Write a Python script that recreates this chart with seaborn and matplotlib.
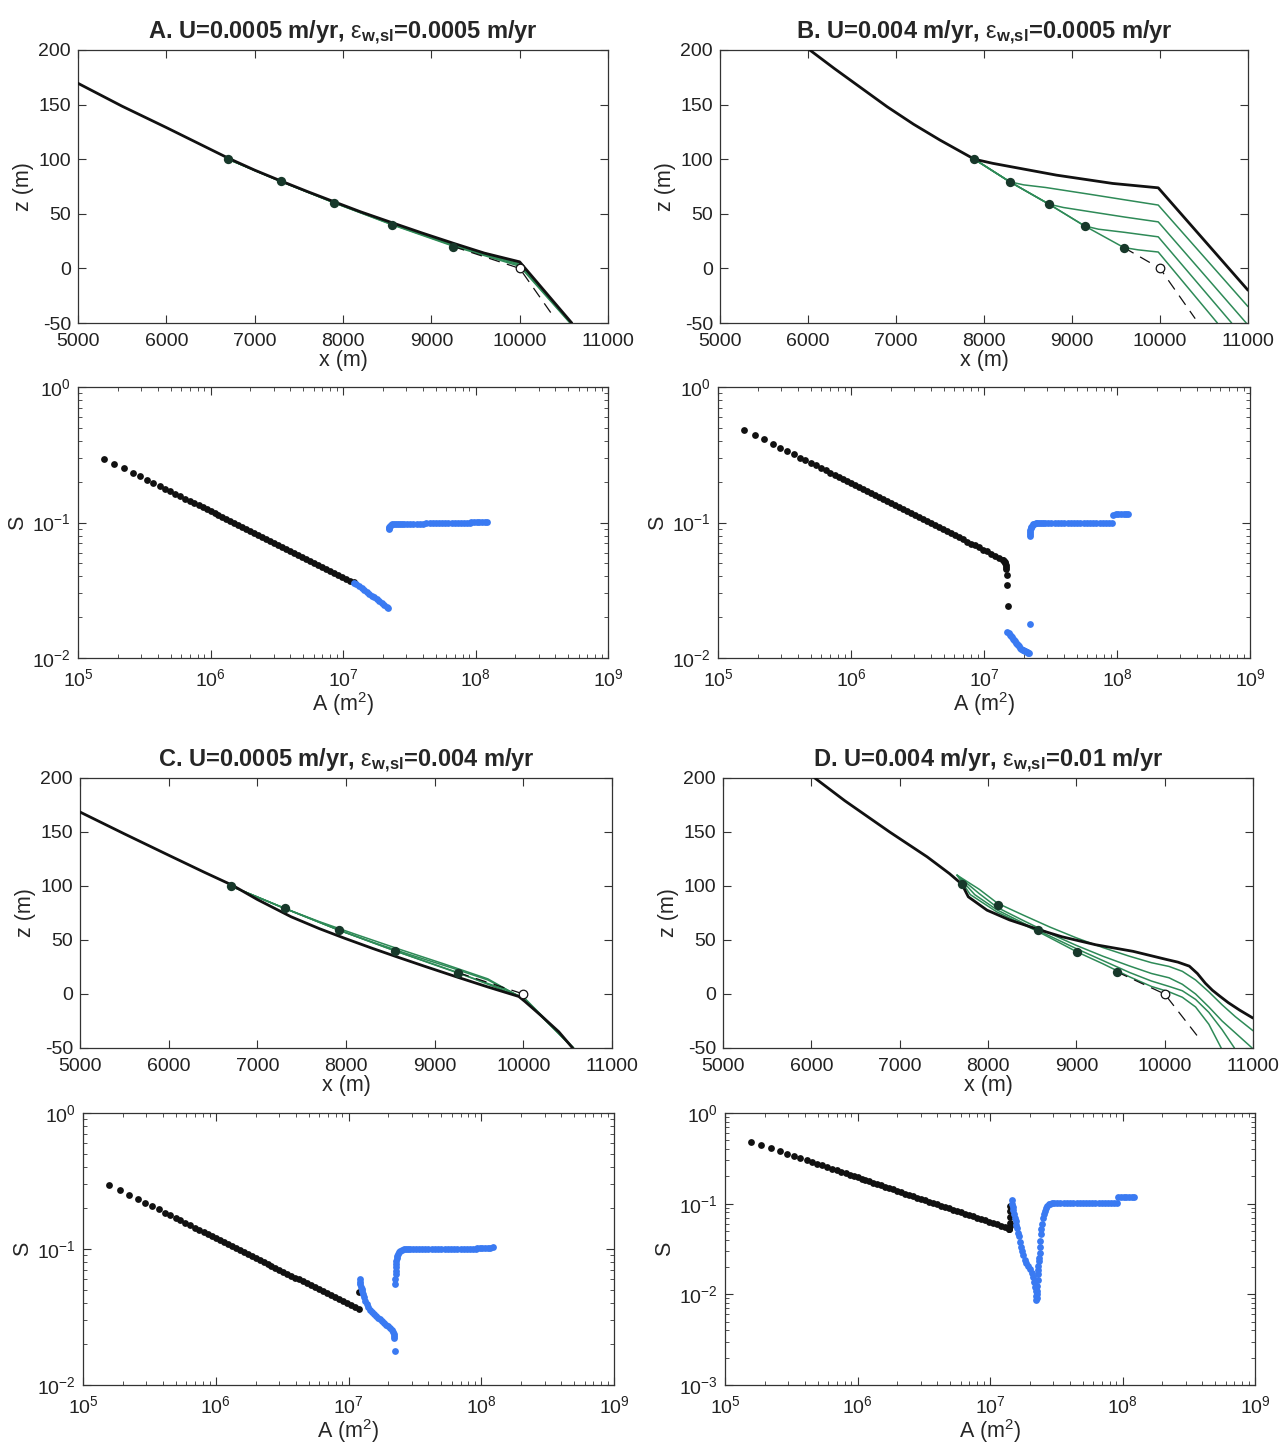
import numpy as np
import matplotlib
matplotlib.use("Agg")
import matplotlib.pyplot as plt
from matplotlib.ticker import LogLocator, NullFormatter, FixedLocator
import seaborn as sns

# ---------------- long-profile data (x in m, z in m) ----------------
# A. U=0.0005, eps=0.0005
black_A_x = [5000, 5500, 6000, 6500, 6700, 7000, 7300, 7600, 7900, 8200, 8550, 8900, 9250, 9600, 10000, 10590]
black_A_z = [169.5, 148.5, 129, 109, 101, 90, 80, 70.3, 61, 51.8, 42, 32.3, 23, 14, 6, -50]
greens_A_x = [[6700, 7300, 7900, 8550, 9250, 10000, 10585],
              [6700, 7300, 7900, 8550, 9250, 10000, 10580],
              [6700, 7300, 7900, 8550, 9250, 10000, 10575],
              [6700, 7300, 7900, 8550, 9250, 10000, 10570]]
greens_A_z = [[100, 79.6, 60.6, 41.3, 22.0, 5.0, -50],
              [100, 79.5, 60.3, 40.8, 21.4, 4.0, -50],
              [100, 79.5, 60.1, 40.4, 20.9, 3.0, -50],
              [100, 79.5, 60.0, 40.1, 20.3, 2.0, -50]]
dots_A_x = [6700, 7300, 7900, 8550, 9250]
dots_A_z = [100, 80, 60, 40, 20]
dash_A_x = [9250, 10000, 10400]
dash_A_z = [20, 0, -46]

# B. U=0.004, eps=0.0005
black_B_x = [6020, 6300, 6600, 6900, 7200, 7500, 7890, 8100, 8314, 8824, 9462, 9980, 11000]
black_B_z = [200, 183, 165.5, 148, 132, 117.5, 100, 96.2, 93, 85.4, 77.8, 73.8, -20]
greens_B_x = [[7890, 8293, 8450, 8700, 9200, 9600, 9980, 11000],
              [7890, 8293, 8739, 8900, 9200, 9600, 9980, 10980],
              [7890, 8293, 8739, 9143, 9300, 9600, 9980, 10814],
              [7890, 8293, 8739, 9143, 9589, 9750, 9980, 10652]]
greens_B_z = [[100, 79.3, 76.5, 74.1, 67.9, 62.8, 58.0, -35],
              [100, 79.3, 58.8, 55.8, 52.0, 47.0, 42.6, -50],
              [100, 79.3, 58.8, 38.9, 35.9, 33.0, 28.9, -50],
              [100, 79.3, 58.8, 38.9, 19.1, 17.0, 15.0, -50]]
dots_B_x = [7890, 8293, 8739, 9143, 9589]
dots_B_z = [100, 79.3, 58.8, 38.9, 19.1]
dash_B_x = [9589, 10000, 10400]
dash_B_z = [19.1, 0, -46]

# C. U=0.0005, eps=0.004
black_C_x = [5000, 5500, 6000, 6400, 6718, 7000, 7381, 7700, 7988, 8300, 8595, 8900, 9249, 9600, 9949, 10019, 10200, 10400, 10556]
black_C_z = [168.5, 148.3, 128.5, 112.8, 100.7, 87.5, 71.5, 60.5, 51.5, 42.2, 33.8, 25.3, 15.8, 6.5, -2.3, -7, -20, -35, -50]
greens_C_x = [[6700, 7311, 7700, 8100, 8600, 9100, 9600, 10010, 10560],
              [6700, 7311, 7918, 8300, 8700, 9200, 9600, 10010, 10560],
              [6700, 7311, 7918, 8558, 9000, 9400, 9800, 10010, 10565],
              [6700, 7311, 7918, 8558, 9263, 9600, 9850, 10010, 10570]]
greens_C_z = [[100, 79.2, 67, 55.5, 41.5, 28, 14, -5, -50],
              [100, 79.2, 59.2, 48, 37, 24, 13, -4.5, -50],
              [100, 79.2, 59.2, 39.8, 27, 15.5, 4, -4, -50],
              [100, 79.2, 59.2, 39.8, 19.8, 9, 1, -3.5, -50]]
dots_C_x = [6700, 7311, 7918, 8558, 9263]
dots_C_z = [100, 79.2, 59.2, 39.8, 19.8]
dash_C_x = [9263, 10000]
dash_C_z = [19.8, 0]

# D. U=0.004, eps=0.01
black_D_x = [6039, 6378, 6887, 7311, 7565, 7705, 7777, 7989, 8243, 8583, 8837, 9219, 9643, 10024,
             10150, 10279, 10370, 10460, 10540, 10618, 10720, 10850, 11000]
black_D_z = [200, 179, 150, 127, 111.4, 101.6, 90, 77.6, 68.6, 59.4, 53, 45.6, 39.5, 31.9,
             29.5, 25.8, 19, 10, 3.5, -1.6, -8, -15, -22.3]
greens_D_x = [[7650, 7900, 8108, 8400, 8700, 9000, 9300, 9600, 9850, 10050, 10200, 10350, 10500, 10650, 10800, 11000],
              [7650, 7900, 8108, 8400, 8700, 9000, 9300, 9600, 9850, 10050, 10200, 10350, 10500, 10650, 10800, 10990],
              [7650, 7850, 8100, 8562, 9000, 9300, 9600, 9850, 10050, 10200, 10350, 10500, 10650, 10790],
              [7650, 7800, 8100, 8562, 9007, 9300, 9600, 9850, 10050, 10200, 10350, 10500, 10640]]
greens_D_z = [[110, 97, 84, 73, 62, 52, 43, 35, 29, 25.5, 21, 13, 2, -10, -21, -34],
              [110, 93, 80, 68, 56, 45, 35, 26, 19, 15, 9, 0, -12, -25, -36, -50],
              [110, 92, 78, 59, 42, 31, 20, 12, 7, 3, -5, -17, -33, -50],
              [110, 92, 76, 58, 39, 28, 16, 7, 2, -3, -12, -28, -50]]
dots_D_x = [7705, 8108, 8562, 9007, 9461]
dots_D_z = [101.6, 82.3, 59.4, 38.9, 20.4]
dash_D_x = [9461, 10000, 10400]
dash_D_z = [20.4, 0, -42]

circle_x = [10000]
circle_z = [0]

# ---------------- slope-area data (A in m^2, S) ----------------
A_up = [1.574e5, 1.884e5, 2.208e5, 2.588e5, 2.944e5, 3.304e5, 3.707e5, 4.130e5, 4.529e5, 4.977e5,
        5.420e5, 5.916e5, 6.442e5, 6.982e5, 7.534e5, 8.128e5, 8.710e5, 9.333e5, 1.000e6, 1.072e6,
        1.148e6, 1.230e6, 1.318e6, 1.413e6, 1.514e6, 1.622e6, 1.738e6, 1.862e6, 1.995e6, 2.138e6,
        2.291e6, 2.455e6, 2.630e6, 2.818e6, 3.020e6, 3.236e6, 3.467e6, 3.715e6, 3.981e6, 4.266e6,
        4.571e6, 4.898e6, 5.248e6, 5.623e6, 6.026e6, 6.457e6, 6.918e6, 7.413e6, 7.943e6, 8.511e6,
        9.120e6, 9.772e6, 1.047e7, 1.122e7, 1.202e7]
S_up_lowU = [0.2965, 0.2716, 0.2516, 0.2328, 0.2187, 0.2067, 0.1955, 0.1855, 0.1774, 0.1694,
             0.1626, 0.1558, 0.1495, 0.1438, 0.1385, 0.1335, 0.1291, 0.1248, 0.1207, 0.1167,
             0.1129, 0.1091, 0.1055, 0.1021, 0.0987, 0.0954, 0.0923, 0.0893, 0.0863, 0.0835,
             0.0807, 0.0781, 0.0755, 0.0730, 0.0706, 0.0683, 0.0660, 0.0638, 0.0617, 0.0597,
             0.0577, 0.0558, 0.0540, 0.0522, 0.0505, 0.0488, 0.0472, 0.0456, 0.0441, 0.0427,
             0.0413, 0.0399, 0.0386, 0.0373, 0.0361]
S_up_highU = [0.484, 0.443, 0.410, 0.379, 0.356, 0.336, 0.318, 0.301, 0.288, 0.275,
              0.264, 0.252, 0.242, 0.233, 0.224, 0.216, 0.209, 0.2015, 0.1948, 0.1882,
              0.1820, 0.1758, 0.1700, 0.1644, 0.1588, 0.1534, 0.1483, 0.1434, 0.1385, 0.1339,
              0.1294, 0.1251, 0.1209, 0.1168, 0.1129, 0.1091, 0.1054, 0.1018, 0.0984, 0.0952,
              0.0919, 0.0888, 0.0859, 0.0830, 0.0802, 0.0775, 0.0750, 0.0724, 0.0699, 0.0677,
              0.0654, 0.0632, 0.0611, 0.0590, 0.0570]
A_up_ext = [1.288e7, 1.380e7]
S_ext_highU = [0.0551, 0.0532]

A_trunk = [3.05e7, 3.2e7, 3.4e7, 3.6e7, 3.8e7, 4.0e7, 4.25e7, 4.5e7, 4.75e7, 5.0e7, 5.3e7,
           5.6e7, 5.9e7, 6.25e7, 6.6e7, 7.0e7, 7.4e7, 7.8e7, 8.25e7, 8.7e7, 9.15e7]
A_mouth = [9.3e7, 9.75e7, 1.02e8, 1.07e8, 1.12e8, 1.17e8, 1.22e8]

# panel A
blue1_A_A = [1.21e7, 1.26e7, 1.32e7, 1.38e7, 1.44e7, 1.51e7, 1.58e7, 1.65e7, 1.72e7, 1.80e7,
             1.88e7, 1.96e7, 2.05e7, 2.14e7, 2.20e7]
blue1_A_S = [0.0359, 0.0349, 0.0338, 0.0327, 0.0317, 0.0307, 0.0297, 0.0288, 0.0280, 0.0271,
             0.0262, 0.0254, 0.0247, 0.0239, 0.0234]
rise_A_A = [2.21e7, 2.22e7, 2.24e7, 2.27e7, 2.31e7, 2.36e7, 2.43e7, 2.51e7, 2.6e7, 2.7e7, 2.8e7, 2.9e7]
rise_A_S = [0.089, 0.091, 0.093, 0.095, 0.0965, 0.0972, 0.0977, 0.098, 0.098, 0.098, 0.098, 0.098]
trunk_A_S = [0.0981, 0.0981, 0.0982, 0.0982, 0.0983, 0.0983, 0.0984, 0.0984, 0.0985, 0.0985, 0.0985,
             0.0986, 0.0986, 0.0986, 0.0987, 0.0987, 0.0988, 0.0988, 0.0989, 0.0989, 0.0990]
mouth_A_S = [0.1005, 0.1007, 0.1009, 0.1010, 0.1011, 0.1012, 0.1013]

# panel B
tail_B_A = [1.40e7, 1.42e7, 1.44e7, 1.45e7, 1.46e7, 1.465e7, 1.47e7, 1.48e7, 1.50e7, 1.52e7]
tail_B_S = [0.0528, 0.0523, 0.0512, 0.0500, 0.0485, 0.0470, 0.0455, 0.0412, 0.0344, 0.0243]
blue1_B_A = [1.50e7, 1.53e7, 1.56e7, 1.60e7, 1.63e7, 1.66e7, 1.69e7, 1.72e7, 1.75e7, 1.78e7, 1.81e7,
             1.84e7, 1.88e7, 1.91e7, 1.95e7, 1.98e7, 2.02e7, 2.05e7, 2.09e7, 2.12e7, 2.16e7, 2.19e7]
blue1_B_S = [0.0156, 0.0153, 0.0149, 0.0145, 0.0142, 0.0139, 0.0136, 0.0133, 0.0130, 0.0127, 0.0125,
             0.0122, 0.0119, 0.0117, 0.0115, 0.0114, 0.0113, 0.0112, 0.0111, 0.0110, 0.0109, 0.0109]
lone_B_A = [2.23e7]
lone_B_S = [0.0178]
rise_B_A = [2.20e7, 2.21e7, 2.22e7, 2.23e7, 2.25e7, 2.27e7, 2.30e7, 2.34e7, 2.39e7, 2.45e7, 2.52e7,
            2.6e7, 2.7e7, 2.8e7, 2.9e7]
rise_B_S = [0.079, 0.082, 0.085, 0.088, 0.091, 0.093, 0.095, 0.097, 0.098, 0.0985, 0.099,
            0.099, 0.099, 0.099, 0.099]
trunk_B_S = [0.0991, 0.0991, 0.0992, 0.0992, 0.0992, 0.0993, 0.0993, 0.0993, 0.0993, 0.0994, 0.0994,
             0.0994, 0.0994, 0.0995, 0.0995, 0.0995, 0.0995, 0.0996, 0.0996, 0.0996, 0.0997]
mouth_B_S = [0.1145, 0.1147, 0.1148, 0.1149, 0.1150, 0.1151, 0.1152]

# panel C
lone_C_black_A = [1.205e7]
lone_C_black_S = [0.0481]
blue1_C_A = [1.22e7, 1.225e7, 1.23e7, 1.24e7, 1.255e7, 1.27e7, 1.29e7, 1.31e7, 1.34e7, 1.37e7,
             1.41e7, 1.45e7, 1.50e7, 1.55e7, 1.60e7, 1.66e7, 1.72e7, 1.79e7, 1.86e7, 1.93e7,
             2.0e7, 2.07e7, 2.13e7, 2.17e7, 2.2e7, 2.21e7, 2.22e7]
blue1_C_S = [0.0600, 0.0575, 0.0550, 0.0525, 0.0505, 0.0490, 0.0465, 0.0440, 0.0413, 0.0395,
             0.0375, 0.0358, 0.0345, 0.0334, 0.0322, 0.0313, 0.0305, 0.0294, 0.0286, 0.0278,
             0.0270, 0.0262, 0.0252, 0.0246, 0.0238, 0.0230, 0.0222]
lone_C_A = [2.24e7]
lone_C_S = [0.0178]
rise_C_A = [2.25e7, 2.255e7, 2.26e7, 2.265e7, 2.27e7, 2.28e7, 2.29e7, 2.31e7, 2.33e7, 2.36e7,
            2.40e7, 2.45e7, 2.52e7, 2.60e7, 2.7e7, 2.8e7, 2.9e7]
rise_C_S = [0.0554, 0.0600, 0.0650, 0.0690, 0.0735, 0.0780, 0.0820, 0.0860, 0.0895, 0.0925,
            0.0950, 0.0970, 0.0985, 0.0995, 0.1000, 0.1000, 0.1000]
trunk_C_S = [0.1000, 0.1001, 0.1001, 0.1001, 0.1002, 0.1002, 0.1002, 0.1003, 0.1003, 0.1003, 0.1004,
             0.1004, 0.1004, 0.1005, 0.1005, 0.1005, 0.1006, 0.1006, 0.1006, 0.1007, 0.1007]
mouth_C_S = [0.1020, 0.1021, 0.1022, 0.1023, 0.1024, 0.1025, 0.1026]

# panel D
tail_D_A = [1.39e7, 1.40e7, 1.405e7, 1.41e7, 1.415e7, 1.42e7, 1.425e7]
tail_D_S = [0.0525, 0.0530, 0.0560, 0.0610, 0.0708, 0.0839, 0.0953]
drop_D_A = [1.455e7, 1.47e7, 1.486e7, 1.50e7, 1.52e7, 1.54e7, 1.56e7, 1.58e7, 1.60e7, 1.625e7,
            1.65e7, 1.68e7, 1.71e7, 1.74e7, 1.78e7, 1.83e7, 1.88e7, 1.94e7, 2.0e7, 2.06e7,
            2.12e7, 2.16e7, 2.19e7, 2.21e7, 2.23e7, 2.24e7]
drop_D_S = [0.110, 0.100, 0.0914, 0.085, 0.077, 0.0695, 0.064, 0.058, 0.054, 0.048,
            0.0435, 0.038, 0.0335, 0.030, 0.027, 0.0238, 0.0222, 0.0205, 0.0190, 0.0172,
            0.0154, 0.0138, 0.0122, 0.0108, 0.0095, 0.0086]
rise_D_A = [2.25e7, 2.26e7, 2.27e7, 2.28e7, 2.29e7, 2.30e7, 2.31e7, 2.32e7, 2.335e7, 2.35e7,
            2.365e7, 2.38e7, 2.40e7, 2.42e7, 2.445e7, 2.47e7, 2.51e7, 2.55e7, 2.60e7, 2.66e7,
            2.71e7, 2.78e7, 2.86e7, 2.94e7]
rise_D_S = [0.0092, 0.0100, 0.0109, 0.0125, 0.0145, 0.0167, 0.0185, 0.0205, 0.0235, 0.0250,
            0.0285, 0.0330, 0.0390, 0.0460, 0.0530, 0.0597, 0.0690, 0.0770, 0.0840, 0.0900,
            0.0953, 0.0980, 0.0995, 0.1005]
trunk_D_S = [0.1008, 0.1008, 0.1009, 0.1009, 0.1009, 0.1010, 0.1010, 0.1010, 0.1010, 0.1011, 0.1011,
             0.1011, 0.1011, 0.1012, 0.1012, 0.1012, 0.1012, 0.1013, 0.1013, 0.1013, 0.1013]
mouth_D_S = [0.1170, 0.1172, 0.1174, 0.1175, 0.1176, 0.1177, 0.1178]

titles = [r"A. U=0.0005 m/yr, $\mathrm{\varepsilon}_{\mathbf{w{,}sl}}$=0.0005 m/yr",
          r"B. U=0.004 m/yr, $\mathrm{\varepsilon}_{\mathbf{w{,}sl}}$=0.0005 m/yr",
          r"C. U=0.0005 m/yr, $\mathrm{\varepsilon}_{\mathbf{w{,}sl}}$=0.004 m/yr",
          r"D. U=0.004 m/yr, $\mathrm{\varepsilon}_{\mathbf{w{,}sl}}$=0.01 m/yr"]

# ---------------- style ----------------
sns.set_theme(style="ticks")
plt.rcParams["font.family"] = ["Liberation Sans", "DejaVu Sans"]
plt.rcParams.update({
    "mathtext.fontset": "custom",
    "mathtext.rm": "Liberation Sans",
    "mathtext.it": "Liberation Sans:italic",
    "mathtext.bf": "Liberation Sans:bold",
    "mathtext.default": "regular",
    "axes.unicode_minus": False,
    "axes.edgecolor": "#333333",
    "axes.linewidth": 0.9,
})

GREEN = "#2e8a57"
DOT = "#17382a"
BLUE = "#3a7af2"
BLACK = "#111111"

fig = plt.figure(figsize=(12.88, 14.46), dpi=100)


def rect(x0, x1, y0, y1):
    return [x0 / 1288, 1 - y1 / 1446, (x1 - x0) / 1288, (y1 - y0) / 1446]


def style_ticks(ax):
    ax.tick_params(which="both", direction="in", top=True, right=True,
                   labelsize=14, colors="#333333", labelcolor="#222222")
    ax.tick_params(which="major", length=6, width=0.8)
    ax.tick_params(which="minor", length=3, width=0.6)
    ax.tick_params(axis="x", which="major", pad=7)
    ax.tick_params(axis="y", which="major", pad=5)


def profile_panel(ax, bx, bz, gxs, gzs, dx, dz, hx, hz, title):
    for gx, gz in zip(gxs, gzs):
        sns.lineplot(x=gx, y=gz, ax=ax, color=GREEN, lw=1.1, sort=False,
                     estimator=None, legend=False, zorder=2)
    sns.lineplot(x=hx, y=hz, ax=ax, color=BLACK, lw=0.9, sort=False, estimator=None,
                 legend=False, linestyle=(0, (9, 6)), zorder=2)
    sns.lineplot(x=bx, y=bz, ax=ax, color=BLACK, lw=2.0, sort=False,
                 estimator=None, legend=False, zorder=3)
    sns.scatterplot(x=dx, y=dz, ax=ax, color=DOT, s=45, linewidth=0,
                    legend=False, zorder=4)
    sns.scatterplot(x=circle_x, y=circle_z, ax=ax, color="white", edgecolor=BLACK,
                    s=38, linewidth=0.9, legend=False, zorder=4)
    ax.set_xlim(5000, 11000)
    ax.set_ylim(-50, 200)
    ax.xaxis.set_major_locator(FixedLocator([5000, 6000, 7000, 8000, 9000, 10000, 11000]))
    ax.yaxis.set_major_locator(FixedLocator([-50, 0, 50, 100, 150, 200]))
    ax.set_xlabel("x (m)", fontsize=15.5, labelpad=0)
    ax.set_ylabel("z (m)", fontsize=15.5, labelpad=3)
    ax.set_title(title, fontsize=17, fontweight="bold", pad=8)
    style_ticks(ax)


def sa_panel(ax, black_sets, blue_sets, ymin):
    ax.set_xscale("log")
    ax.set_yscale("log")
    for A, S in black_sets:
        sns.scatterplot(x=A, y=S, ax=ax, color=BLACK, s=24, linewidth=0,
                        legend=False, zorder=3)
    for A, S in blue_sets:
        sns.scatterplot(x=A, y=S, ax=ax, color=BLUE, s=24, linewidth=0,
                        legend=False, zorder=3)
    ax.set_xlim(1e5, 1e9)
    ax.set_ylim(ymin, 1)
    ax.xaxis.set_major_locator(LogLocator(base=10, numticks=10))
    ax.xaxis.set_minor_locator(LogLocator(base=10, subs=np.arange(2, 10), numticks=40))
    ax.yaxis.set_major_locator(LogLocator(base=10, numticks=10))
    ax.yaxis.set_minor_locator(LogLocator(base=10, subs=np.arange(2, 10), numticks=40))
    ax.xaxis.set_minor_formatter(NullFormatter())
    ax.yaxis.set_minor_formatter(NullFormatter())
    ax.set_xlabel("A (m$^2$)", fontsize=15.5, labelpad=0)
    ax.set_ylabel("S", fontsize=15.5, labelpad=3)
    style_ticks(ax)


axA = fig.add_axes(rect(78, 608, 50, 323))
axB = fig.add_axes(rect(720, 1248, 50, 323))
saA = fig.add_axes(rect(78, 608, 387, 658))
saB = fig.add_axes(rect(718, 1250, 387, 658))
axC = fig.add_axes(rect(80, 612, 778, 1048))
axD = fig.add_axes(rect(723, 1253, 778, 1048))
saC = fig.add_axes(rect(83, 614, 1113, 1385))
saD = fig.add_axes(rect(725, 1255, 1113, 1385))

profile_panel(axA, black_A_x, black_A_z, greens_A_x, greens_A_z, dots_A_x, dots_A_z,
              dash_A_x, dash_A_z, titles[0])
profile_panel(axB, black_B_x, black_B_z, greens_B_x, greens_B_z, dots_B_x, dots_B_z,
              dash_B_x, dash_B_z, titles[1])
profile_panel(axC, black_C_x, black_C_z, greens_C_x, greens_C_z, dots_C_x, dots_C_z,
              dash_C_x, dash_C_z, titles[2])
profile_panel(axD, black_D_x, black_D_z, greens_D_x, greens_D_z, dots_D_x, dots_D_z,
              dash_D_x, dash_D_z, titles[3])

sa_panel(saA, [(A_up, S_up_lowU)],
         [(blue1_A_A, blue1_A_S), (rise_A_A, rise_A_S), (A_trunk, trunk_A_S), (A_mouth, mouth_A_S)],
         1e-2)
sa_panel(saB, [(A_up, S_up_highU), (A_up_ext, S_ext_highU), (tail_B_A, tail_B_S)],
         [(blue1_B_A, blue1_B_S), (lone_B_A, lone_B_S), (rise_B_A, rise_B_S),
          (A_trunk, trunk_B_S), (A_mouth, mouth_B_S)],
         1e-2)
sa_panel(saC, [(A_up, S_up_lowU), (lone_C_black_A, lone_C_black_S)],
         [(blue1_C_A, blue1_C_S), (lone_C_A, lone_C_S), (rise_C_A, rise_C_S),
          (A_trunk, trunk_C_S), (A_mouth, mouth_C_S)],
         1e-2)
sa_panel(saD, [(A_up, S_up_highU), (A_up_ext, S_ext_highU), (tail_D_A, tail_D_S)],
         [(drop_D_A, drop_D_S), (rise_D_A, rise_D_S), (A_trunk, trunk_D_S), (A_mouth, mouth_D_S)],
         1e-3)

fig.savefig("out.png", dpi=100)
plt.close(fig)
